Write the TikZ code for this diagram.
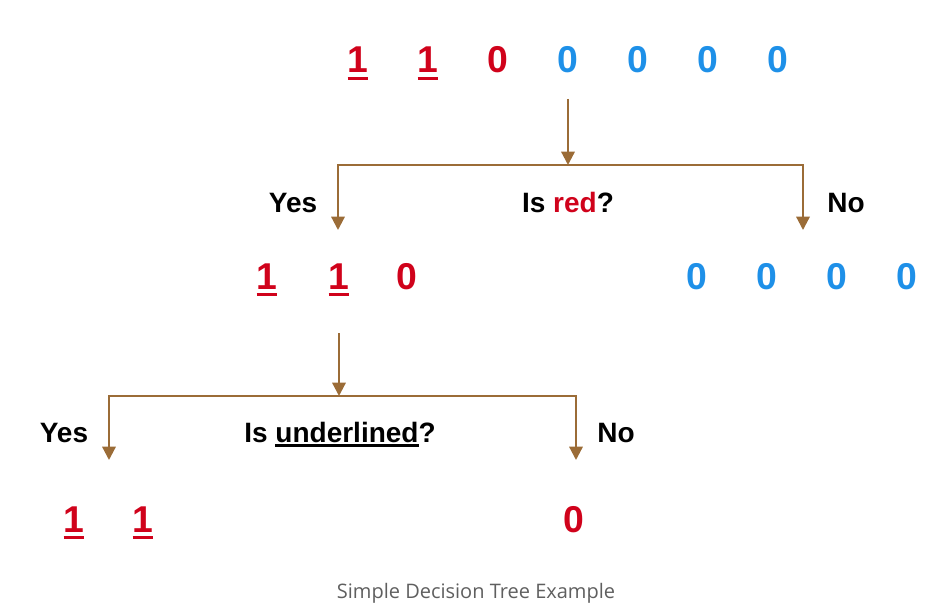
\documentclass[tikz,border=0pt]{standalone}
\usepackage{fontspec}
\setmainfont{Liberation Sans}
\newfontfamily\capfont{Open Sans}
\usetikzlibrary{arrows.meta}
\definecolor{bitred}{RGB}{208,2,27}
\definecolor{bitblue}{RGB}{30,144,232}
\definecolor{branchbrown}{RGB}{155,108,55}
\definecolor{capgray}{RGB}{95,95,95}
\newcommand{\undl}[2][-5pt]{\setbox0=\hbox{#2}\rlap{\rule[#1]{\wd0}{1.7pt}}\box0}

\begin{document}
\begin{tikzpicture}[x=0.75pt,y=-0.75pt]
    \tikzstyle{bit}=[anchor=base, inner sep=1pt, font=\bfseries\fontsize{28}{28}\selectfont]
    \tikzstyle{red bit}=[bit, text=bitred]
    \tikzstyle{blue bit}=[bit, text=bitblue]
    \tikzstyle{answer}=[anchor=base, inner sep=1pt, font=\bfseries\fontsize{21}{21}\selectfont]
    \tikzstyle{branch}=[draw=branchbrown, line width=1.7pt]
    \tikzstyle{down}=[branch, -{Triangle[width=10pt,length=10pt]}]

    \useasboundingbox (0,0) rectangle (948,610);

    % root: all seven bits
    \node[red bit] (T-1) at (358,73) {\undl{1}};
    \node[red bit] (T-2) at (428,73) {\undl{1}};
    \node[red bit] (T-3) at (498,73) {0};
    \node[blue bit] (T-4) at (568,73) {0};
    \node[blue bit] (T-5) at (638,73) {0};
    \node[blue bit] (T-6) at (708,73) {0};
    \node[blue bit] (T-7) at (778,73) {0};

    \node[answer] (Y-1 label) at (293,212) {Yes};
    \node[answer] (Q-1) at (568,212) {Is \textcolor{bitred}{red}?};
    \node[answer] (N-1 label) at (846,212) {No};

    % second level
    \node[red bit] (M-1) at (267,289) {\undl{1}};
    \node[red bit] (M-2) at (339,289) {\undl{1}};
    \node[red bit] (M-3) at (407,289) {0};
    \node[blue bit] (M-4) at (697,289) {0};
    \node[blue bit] (M-5) at (767,289) {0};
    \node[blue bit] (M-6) at (837,289) {0};
    \node[blue bit] (M-7) at (907,289) {0};

    \node[answer] (Y-2 label) at (64,442) {Yes};
    \node[answer] (Q-2) at (340,442) {Is \undl[-3.5pt]{underlined}?};
    \node[answer] (N-2 label) at (616,442) {No};

    % leaves
    \node[red bit] (B-1) at (74,532) {\undl{1}};
    \node[red bit] (B-2) at (143,532) {\undl{1}};
    \node[red bit] (B-3) at (574,532) {0};

    \node[anchor=base, text=capgray, font=\capfont\fontsize{15}{15}\selectfont] (caption) at (476,598) {Simple Decision Tree Example};

    \coordinate (S-1) at (568,165);
    \coordinate (Y-1) at (338,230);
    \coordinate (N-1) at (803,230);
    \draw[down, shorten <=18pt] (T-4) -- (S-1);
    \draw[down] (S-1) -| (Y-1);
    \draw[down] (S-1) -| (N-1);

    \coordinate (S-2) at (339,396);
    \coordinate (Y-2) at (109,460);
    \coordinate (N-2) at (576,460);
    \draw[down, shorten <=27pt] (M-2) -- (S-2);
    \draw[down] (S-2) -| (Y-2);
    \draw[down] (S-2) -| (N-2);
\end{tikzpicture}
\end{document}
